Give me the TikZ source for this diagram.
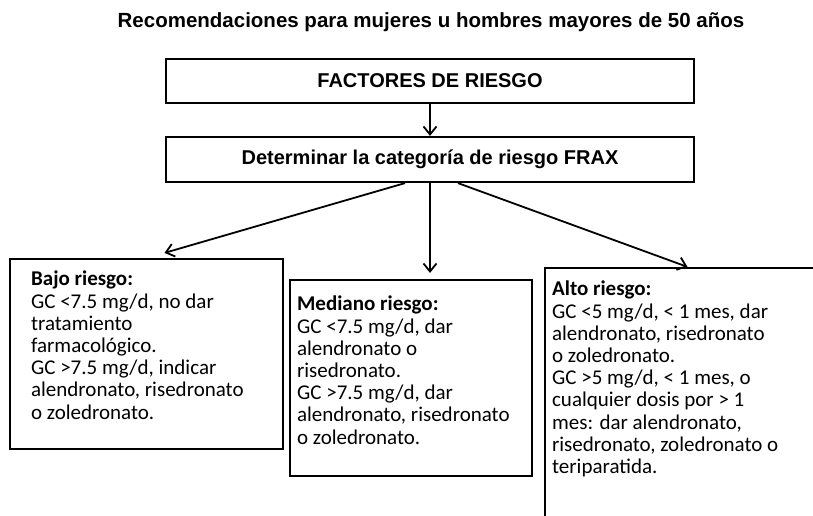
\documentclass[tikz,border=0pt]{standalone}
\usepackage{fontspec}
\setmainfont{Liberation Sans}
\newfontfamily\calibri{Carlito}
\usepackage{xcolor}
\usepackage{tikz}
\usetikzlibrary{arrows.meta,calc,positioning}
\definecolor{ink}{HTML}{000000}
\definecolor{paper}{HTML}{FFFFFF}
\tikzset{
  tbox/.style={draw=ink, line width=2.2pt, fill=paper, minimum width=528pt, minimum height=44pt,
    font=\fontsize{20}{24}\selectfont\bfseries},
  rbox/.style={draw=ink, line width=2.2pt, fill=paper, inner sep=0pt},
  body/.style={anchor=north west, inner sep=0pt, align=left, text=ink,
    font=\calibri\fontsize{21}{22.2}\selectfont},
  arr/.style={draw=ink, line width=1.8pt, -{Straight Barb[length=8pt,width=13pt]}}
}

\begin{document}
\begin{tikzpicture}[x=1pt,y=-1pt]
  \useasboundingbox (0,0) rectangle (813,515);
  \clip (0,0) rectangle (813,515);

  \node[font=\fontsize{20.5}{24}\selectfont\bfseries] (title) at (431,22)
    {Recomendaciones para mujeres u hombres mayores de 50 años};

  \node[tbox] (factores) at (430,81) {FACTORES DE RIESGO};
  \node[tbox, minimum height=45pt] (frax) at (430,159.5) {Determinar la categoría de riesgo FRAX};

  % three risk groups
  \node[rbox, minimum width=273pt, minimum height=190pt] (bajo) at (146.5,354) {};
  \node[rbox, minimum width=242pt, minimum height=196pt] (mediano) at (411,378) {};
  \node[rbox, minimum width=285pt, minimum height=272pt] (alto) at (687.5,404) {};

  \node[body] (bajoTxt) at ([xshift=22pt,yshift=-13pt]bajo.north west)
    {\textbf{Bajo riesgo:}\\ GC <7.5 mg/d, no dar\\ tratamiento\\ farmacológico.\\
     GC >7.5 mg/d, indicar\\ alendronato, risedronato\\ o zoledronato.};
  \node[body] (medianoTxt) at ([xshift=8pt,yshift=-17pt]mediano.north west)
    {\textbf{Mediano riesgo:}\\ GC <7.5 mg/d, dar\\ alendronato o\\ risedronato.\\
     GC >7.5 mg/d, dar\\ alendronato, risedronato\\ o zoledronato.};
  \node[body] (altoTxt) at ([xshift=8pt,yshift=-14pt]alto.north west)
    {\textbf{Alto riesgo:}\\ GC <5 mg/d, < 1 mes, dar\\ alendronato, risedronato\\ o zoledronato.\\
     GC >5 mg/d, < 1 mes, o\\ cualquier dosis por > 1\\ mes: dar alendronato,\\
     risedronato, zoledronato o\\ teriparatida.};

  \draw[arr] (factores) -- (frax);
  \draw[arr] ([xshift=-25pt]frax.south) -- ([xshift=18pt,yshift=5pt]bajo.north);
  \draw[arr] (frax.south) -- ([yshift=6pt]frax.south |- mediano.north);
  \draw[arr] ([xshift=28pt]frax.south) -- (alto.north);
\end{tikzpicture}
\end{document}
